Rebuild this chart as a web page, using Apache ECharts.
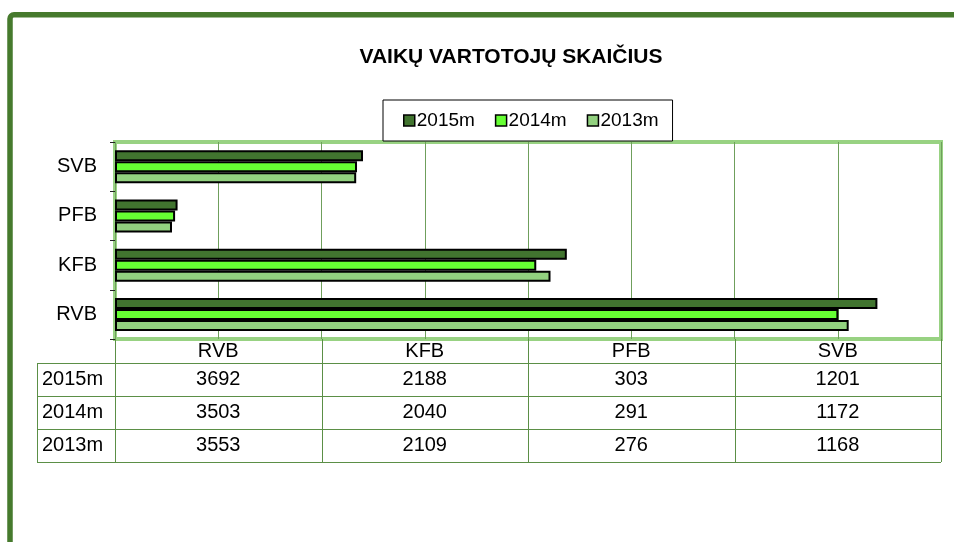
<!DOCTYPE html>
<html>
<head>
<meta charset="utf-8">
<script src="https://cdn.jsdelivr.net/npm/echarts@6/dist/echarts.min.js"></script>
<style>
  html, body { margin: 0; padding: 0; background: #fff; }
  #chart { width: 954px; height: 542px; }
</style>
</head>
<body>
<div id="chart"></div>
<script>
// duomenys
const categories = ['RVB', 'KFB', 'PFB', 'SVB'];
const years = ['2015m', '2014m', '2013m'];
const v2015 = [3692, 2188, 303, 1201];
const v2014 = [3503, 2040, 291, 1172];
const v2013 = [3553, 2109, 276, 1168];
const colors = ['#41742f', '#66ff33', '#92d17f'];

const FONT = "'Liberation Sans', Arial, sans-serif";
const GRID = { left: 115, top: 142, width: 826, height: 197 };
const ROW_H = 33;
const LABEL_X = 37;

document.addEventListener('DOMContentLoaded', function () {
    const chart = echarts.init(document.getElementById('chart'));
    const values = [v2015, v2014, v2013];

    // lentelė po grafiku
    const tableTop = GRID.top + GRID.height;
    const headTop = tableTop + 24;
    const right = GRID.left + GRID.width;
    const colW = GRID.width / categories.length;
    const lineColor = '#5b8f46';
    const g = [];

    categories.forEach(function (c, i) {
        g.push({
            type: 'text', x: GRID.left + colW * (i + 0.5), y: tableTop + 12,
            style: { text: c, fontSize: 20, fontFamily: FONT, fill: '#000', align: 'center', verticalAlign: 'middle' }
        });
    });
    for (let i = 0; i <= categories.length; i++) {
        const x = Math.round(GRID.left + colW * i) + 0.5;
        g.push({ type: 'line', shape: { x1: x, y1: tableTop, x2: x, y2: headTop + ROW_H * 3 }, style: { stroke: lineColor, lineWidth: 1 } });
    }
    g.push({ type: 'line', shape: { x1: LABEL_X + 0.5, y1: headTop, x2: LABEL_X + 0.5, y2: headTop + ROW_H * 3 }, style: { stroke: lineColor, lineWidth: 1 } });
    for (let r = 0; r <= years.length; r++) {
        const y = headTop + ROW_H * r + 0.5;
        g.push({ type: 'line', shape: { x1: LABEL_X, y1: y, x2: right, y2: y }, style: { stroke: lineColor, lineWidth: 1 } });
    }
    years.forEach(function (yr, r) {
        const cy = headTop + ROW_H * (r + 0.5);
        g.push({
            type: 'text', x: LABEL_X + 5, y: cy,
            style: { text: yr, fontSize: 20, fontFamily: FONT, fill: '#000', align: 'left', verticalAlign: 'middle' }
        });
        values[r].forEach(function (v, i) {
            g.push({
                type: 'text', x: GRID.left + colW * (i + 0.5), y: cy,
                style: { text: String(v), fontSize: 20, fontFamily: FONT, fill: '#000', align: 'center', verticalAlign: 'middle' }
            });
        });
    });

    // išorinis rėmelis
    g.push({
        type: 'rect', shape: { x: 10, y: 14.7, width: 1000, height: 600, r: 4 },
        style: { fill: 'none', stroke: '#467a2d', lineWidth: 5.5 }, z: 100
    });

    chart.setOption({
        animation: false,
        backgroundColor: '#fff',
        title: {
            text: 'VAIKŲ VARTOTOJŲ SKAIČIUS',
            left: 506, top: 42, textAlign: 'center',
            textStyle: { fontSize: 21, fontWeight: 'bold', fontFamily: FONT, color: '#000' }
        },
        legend: {
            data: years,
            left: 383, top: 100,
            padding: [11, 14, 11, 20],
            itemWidth: 11, itemHeight: 11, itemGap: 20,
            borderColor: '#000', borderWidth: 1, borderRadius: 0,
            backgroundColor: '#fff',
            icon: 'rect',
            itemStyle: { borderColor: '#000', borderWidth: 1.5 },
            textStyle: { fontSize: 19, fontFamily: FONT, color: '#000', padding: [0, 0, 0, -3] },
            selectedMode: false
        },
        grid: {
            left: GRID.left, top: GRID.top, width: GRID.width, height: GRID.height,
            show: true, borderColor: '#98d282', borderWidth: 4, backgroundColor: '#fff'
        },
        xAxis: {
            type: 'value', min: 0, max: 4000, interval: 500,
            axisLabel: { show: false }, axisTick: { show: false }, axisLine: { show: false },
            splitLine: { lineStyle: { color: '#6f9f5c', width: 1 } }
        },
        yAxis: {
            type: 'category', data: categories,
            axisLine: { show: false },
            axisTick: { show: true, length: 5, lineStyle: { color: '#222' } },
            axisLabel: { fontSize: 20, fontFamily: FONT, color: '#000', margin: 18 }
        },
        series: years.map(function (yr, i) {
            return {
                name: yr, type: 'bar',
                data: values[i],
                barWidth: 11, barGap: '0%',
                itemStyle: { color: colors[i], borderColor: '#000', borderWidth: 2 }
            };
        }),
        graphic: g
    });
});
</script>
</body>
</html>
